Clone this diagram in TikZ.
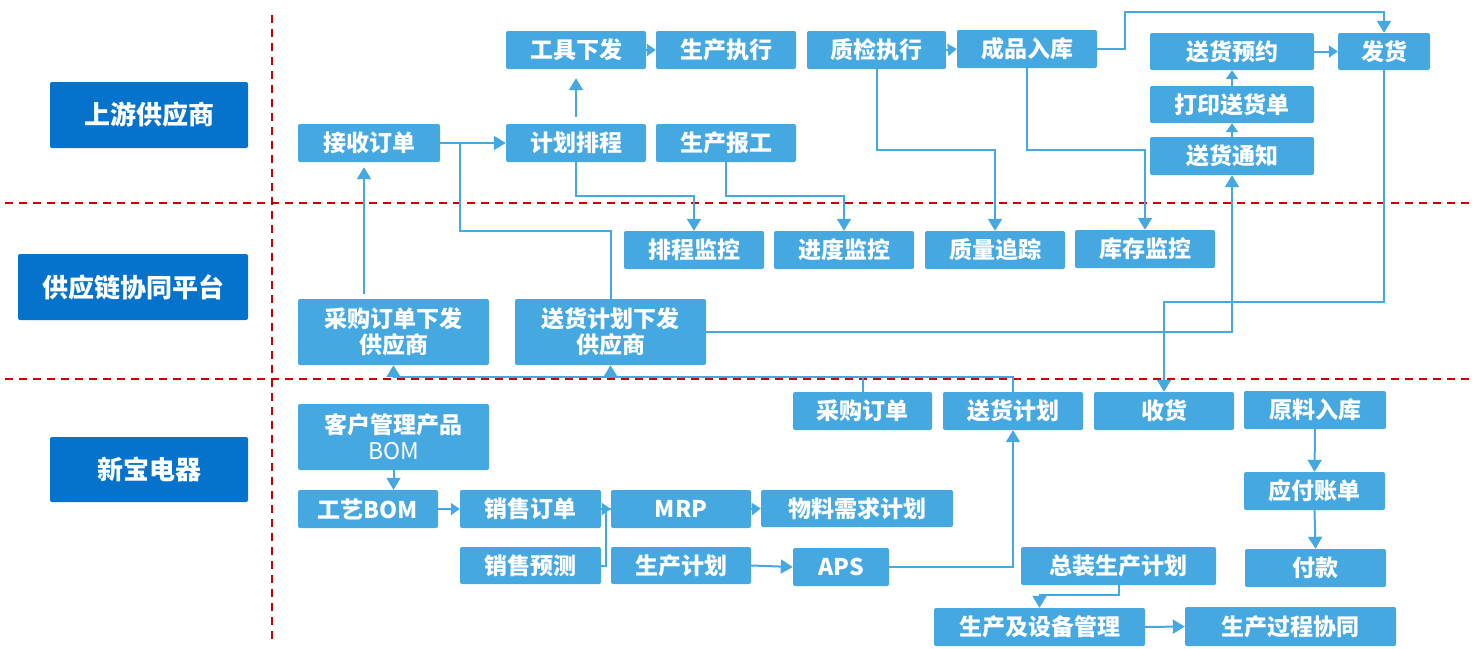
\documentclass[tikz,border=0pt]{standalone}
\usepackage{fontspec}
\setmainfont{Noto Sans CJK SC}
\usetikzlibrary{arrows.meta,calc}
\definecolor{lb}{HTML}{46A8E0}
\definecolor{db}{HTML}{0572CB}
\definecolor{rd}{HTML}{C80000}
\tikzset{
 box/.style={fill=lb, rounded corners=2pt, text=white, font=\bfseries\fontsize{23}{26}\selectfont, inner sep=0pt, align=center},
 lab/.style={fill=db, rounded corners=2pt, text=white, font=\bfseries\fontsize{26}{30}\selectfont, inner sep=0pt, align=center},
 ln/.style={draw=lb, line width=2pt},
 arr/.style={ln, -{Triangle[width=14pt,length=12pt]}},
 sarr/.style={ln, -{Triangle[width=12pt,length=9pt]}},
 sep/.style={draw=rd, line width=2pt, dash pattern=on 8pt off 6pt},
}
\newcommand\bx[7]{\node[#1, minimum width={(#5-#3)*1pt}, minimum height={(#6-#4)*1pt}] (#2) at ({(#3+#5)/2},{(#4+#6)/2}) {#7};}
\begin{document}
\begin{tikzpicture}[x=1pt,y=-1pt]
\useasboundingbox (0,0) rectangle (1477,648);
% separators
\draw[sep] (272,15) -- (272,642);
\draw[sep] (5,203) -- (1472,203);
\draw[sep] (5,379) -- (1472,379);
% lane labels
\bx{lab}{l1}{50}{82}{248}{148}{上游供应商}
\bx{lab}{l2}{18}{254}{248}{320}{供应链协同平台}
\bx{lab}{l3}{50}{437}{248}{502}{新宝电器}
% upper lane
\bx{box}{gjxf}{506}{31}{646}{69}{工具下发}
\bx{box}{sczx}{656}{31}{796}{69}{生产执行}
\bx{box}{zjzx}{807}{31}{946}{69}{质检执行}
\bx{box}{cprk}{957}{30}{1097}{68}{成品入库}
\bx{box}{shyy}{1150}{33}{1314}{70}{送货预约}
\bx{box}{fahuo}{1338}{33}{1430}{70}{发货}
\bx{box}{dysh}{1150}{86}{1314}{123}{打印送货单}
\bx{box}{shtz}{1150}{137}{1314}{175}{送货通知}
\bx{box}{jsdd}{298}{124}{440}{162}{接收订单}
\bx{box}{jhpc}{506}{124}{646}{162}{计划排程}
\bx{box}{scbg}{656}{124}{796}{162}{生产报工}
% middle lane
\bx{box}{pcjk}{624}{231}{764}{269}{排程监控}
\bx{box}{jdjk}{774}{231}{914}{269}{进度监控}
\bx{box}{zlzz}{925}{231}{1065}{269}{质量追踪}
\bx{box}{kcjk}{1075}{230}{1215}{268}{库存监控}
\bx{box}{cgxf}{298}{299}{489}{365}{采购订单下发\\供应商}
\bx{box}{shxf}{515}{299}{706}{365}{送货计划下发\\供应商}
% lower lane
\bx{box}{cgdd}{793}{392}{932}{430}{采购订单}
\bx{box}{shjh}{943}{392}{1083}{430}{送货计划}
\bx{box}{shouhuo}{1094}{392}{1234}{430}{收货}
\bx{box}{ylrk}{1244}{391}{1386}{429}{原料入库}
\bx{box}{khbom}{298}{404}{489}{470}{客户管理产品\\\mdseries BOM}
\bx{box}{gybom}{298}{490}{438}{528}{工艺BOM}
\bx{box}{xsdd}{460}{490}{601}{528}{销售订单}
\bx{box}{mrp}{611}{490}{751}{528}{MRP}
\bx{box}{wlxq}{761}{490}{953}{527}{物料需求计划}
\bx{box}{xsyc}{460}{547}{601}{584}{销售预测}
\bx{box}{scjh}{611}{547}{751}{584}{生产计划}
\bx{box}{aps}{793}{548}{889}{586}{APS}
\bx{box}{yfzd}{1244}{472}{1385}{510}{应付账单}
\bx{box}{fk}{1245}{549}{1386}{587}{付款}
\bx{box}{zzsc}{1021}{547}{1216}{585}{总装生产计划}
\bx{box}{scsb}{934}{608}{1145}{646}{生产及设备管理}
\bx{box}{scgc}{1185}{607}{1396}{646}{生产过程协同}
% helper coordinates
\coordinate (y150) at (0,150);
\coordinate (y196) at (0,196);
\coordinate (y231) at (0,231);
\coordinate (y302) at (0,302);
\coordinate (y377) at (0,377);
\coordinate (jt) at (460,143);
\coordinate (px) at (364,0);
% upper connectors
\draw[arr, shorten <=7pt, shorten >=9pt] (jhpc.north) -- (gjxf.south);
\draw[sarr] (gjxf.east) -- (sczx.west);
\draw[sarr] (zjzx.east) -- (cprk.west);
\draw[arr] (jsdd.east) -- (jhpc.west);
\draw[ln] (shxf.north) -- (shxf.north |- y231) -| (jt);
\draw[arr, shorten <=5pt, shorten >=5pt] (cgxf.north -| px) -- (jsdd.south -| px);
\draw[arr] (jhpc.south) -- (jhpc.south |- y196) -| (pcjk.north);
\draw[arr] (scbg.south) -- (scbg.south |- y196) -| (jdjk.north);
\draw[arr] (zjzx.south) -- (zjzx.south |- y150) -| (zlzz.north);
\draw[arr] (cprk.south) -- (cprk.south |- y150) -| (kcjk.north);
\draw[arr] (cprk.east) -- ++(28,0) -- ++(0,-37) -| (fahuo.north);
\draw[sarr] (shyy.east) -- (fahuo.west);
\draw[sarr] (dysh.north) -- (shyy.south);
\draw[sarr] (shtz.north) -- (dysh.south);
\draw[arr] (shxf.east) -| (shtz.south);
\draw[arr] (fahuo.south) -- (fahuo.south |- y302) -| (shouhuo.north);
% platform connectors
\draw[arr] (cgdd.north) -- (cgdd.north |- y377) -| (cgxf.south);
\draw[arr] (shjh.north) -- (shjh.north |- y377) -| (shxf.south);
% lower connectors
\draw[arr] (khbom.south) -- (khbom.south |- gybom.north);
\draw[sarr] (gybom.east) -- (xsdd.west);
\draw[sarr] (xsdd.east) -- (mrp.west);
\draw[ln] (xsyc.east) -- ++(5,0) |- (mrp.west);
\draw[sarr] (mrp.east) -- (wlxq.west);
\draw[arr] (scjh.east) -- (aps.west);
\draw[arr] (aps.east) -| (shjh.south);
\draw[arr] (zzsc.south) -- ++(0,10) -| (scsb.north);
\draw[arr] (scsb.east) -- (scgc.west);
\draw[arr] (ylrk.south) -- (yfzd.north);
\draw[arr] (yfzd.south) -- (fk.north);
\end{tikzpicture}
\end{document}
